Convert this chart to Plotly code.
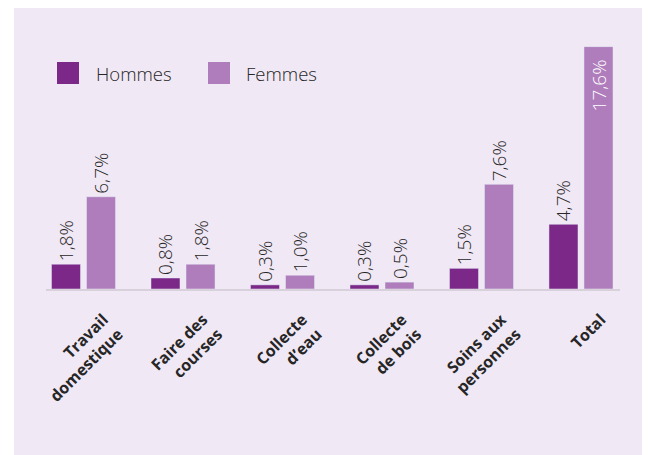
import plotly.graph_objects as go

categories = ["Travail<br>domestique", "Faire des<br>courses", "Collecte<br>d’eau",
              "Collecte<br>de bois", "Soins aux<br>personnes", "Total"]
hommes = [1.8, 0.8, 0.3, 0.3, 1.5, 4.7]
femmes = [6.7, 1.8, 1.0, 0.5, 7.6, 17.6]
series_names = ["Hommes", "Femmes"]

C_H = "#7B2889"
C_F = "#AF7DBB"
BG = "#F0E8F4"
TXT = "#262626"

# the page body adds an 8px margin; figure coordinates = screen - 8
OFF = 8
W, H = 650, 455
ML, MR, MT, MB = 46 - OFF, 30 + OFF, 14 - OFF, 166 + OFF
PW, PH = W - ML - MR, H - MT - MB


def px_x(sx):
    return (sx - OFF - ML) / PW


def px_y(sy):
    return (H - MB - (sy - OFF)) / PH


def fmt(v):
    return f"{v:.1f}".replace(".", ",") + "%"


VFONT = dict(size=19, family="Open Sans", weight=300)

fig = go.Figure()
fig.add_bar(x=list(range(len(categories))), y=hommes, name=series_names[0],
            marker_color=C_H, text=[fmt(v) for v in hommes],
            textposition="outside", textangle=-90, cliponaxis=False,
            constraintext="none",
            outsidetextfont=dict(color=TXT, **VFONT))
fpos = ["inside" if v > 15 else "outside" for v in femmes]
ftext = [fmt(v) + ("\u00a0\u00a0" if v > 15 else "") for v in femmes]
fig.add_bar(x=list(range(len(categories))), y=femmes, name=series_names[1],
            marker_color=C_F, text=ftext,
            textposition=fpos, textangle=-90, cliponaxis=False,
            insidetextanchor="end", constraintext="none",
            outsidetextfont=dict(color=TXT, **VFONT),
            insidetextfont=dict(color="white", **VFONT))

fig.update_layout(
    width=W, height=H,
    margin=dict(l=ML, r=MR, t=MT, b=MB),
    paper_bgcolor=BG, plot_bgcolor=BG,
    barmode="group", bargap=0.296, bargroupgap=0.171,
    showlegend=False,
    font=dict(family="Open Sans", color=TXT),
    xaxis=dict(range=[-0.377, 5.392], tickmode="array",
               tickvals=list(range(len(categories))), ticktext=categories,
               tickangle=-45, showgrid=False, zeroline=False,
               showline=True, linecolor="#D8D1DB", linewidth=2,
               ticklabelshift=20, ticklabelstandoff=13,
               tickfont=dict(size=16, family="Open Sans", weight="bold", color=TXT),
               ticks=""),
    yaxis=dict(range=[0, 19.97], visible=False, showgrid=False, zeroline=False),
)

# white strip on the left of the panel
fig.add_shape(type="rect", xref="paper", yref="paper", layer="below",
              x0=px_x(OFF), x1=px_x(14), y0=px_y(H + OFF), y1=px_y(OFF),
              fillcolor="white", line_width=0)

# legend
for name, col, sx, tx in [(series_names[0], C_H, 57, 94), (series_names[1], C_F, 208, 244)]:
    fig.add_shape(type="rect", xref="paper", yref="paper",
                  x0=px_x(sx), x1=px_x(sx + 22), y0=px_y(84), y1=px_y(62),
                  fillcolor=col, line_width=0)
    fig.add_annotation(xref="paper", yref="paper", x=px_x(tx), y=px_y(73),
                       text=name, showarrow=False, xanchor="left", yanchor="middle",
                       font=dict(size=18.5, family="Open Sans", weight=300, color=TXT))

fig.write_html("out.html")
